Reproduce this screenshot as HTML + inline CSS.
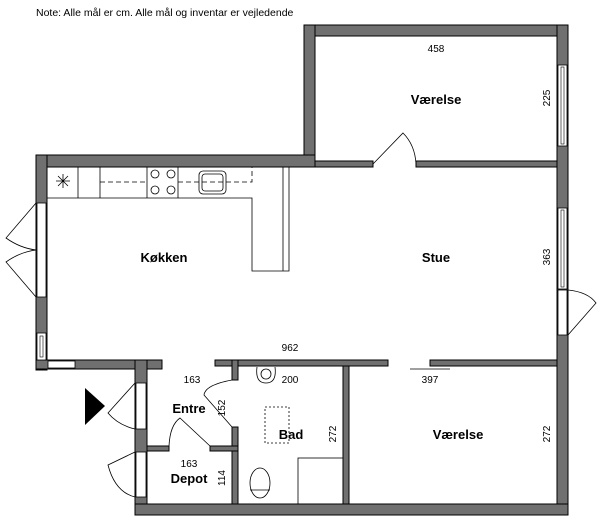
<!DOCTYPE html>
<html><head><style>
html,body{margin:0;padding:0;background:#fff;}
svg{display:block;font-family:"Liberation Sans",sans-serif;}
.w{fill:#707070;stroke:#000;stroke-width:1;}
.t{font-weight:bold;font-size:13px;text-anchor:middle;}
.d{font-size:10px;text-anchor:middle;}
.l{fill:none;stroke:#000;stroke-width:0.8;}
</style></head><body>
<svg width="600" height="524" viewBox="0 0 600 524">
<text x="36" y="16" font-size="10.5">Note: Alle mål er cm. Alle mål og inventar er vejledende</text>
<!-- walls -->
<rect class="w" x="304" y="25" width="264" height="11"/>
<rect class="w" x="304" y="25" width="11" height="142"/>
<rect class="w" x="557" y="25" width="11" height="490"/>
<rect class="w" x="36" y="155" width="279" height="12"/>
<rect class="w" x="315" y="161" width="58" height="6"/>
<rect class="w" x="416" y="161" width="141" height="6"/>
<rect class="w" x="36" y="155" width="11" height="215"/>
<rect class="w" x="36" y="360" width="126" height="9"/>
<rect class="w" x="135" y="360" width="12" height="155"/>
<rect class="w" x="215" y="360" width="173" height="6"/>
<rect class="w" x="430" y="360" width="127" height="6"/>
<rect class="w" x="232" y="360" width="6" height="20"/>
<rect class="w" x="232" y="427" width="6" height="88"/>
<rect class="w" x="343" y="366" width="6" height="149"/>
<rect class="w" x="135" y="504" width="433" height="11"/>
<rect class="w" x="147" y="446" width="22" height="5"/>
<rect class="w" x="210" y="446" width="28" height="5"/>
<!-- openings (white over walls) -->
<rect x="37" y="203" width="9" height="94" fill="#fff" stroke="#000" stroke-width="0.8"/>
<rect x="37" y="333" width="9" height="27" fill="#fff" stroke="#000" stroke-width="0.8"/>
<rect x="40" y="336" width="3" height="21" fill="#fff" stroke="#000" stroke-width="0.6"/>
<rect x="48" y="361" width="27" height="7" fill="#fff" stroke="#000" stroke-width="0.8"/>
<rect x="558" y="65" width="9" height="81" fill="#fff" stroke="#000" stroke-width="0.8"/>
<rect x="561" y="67" width="3" height="77" fill="#fff" stroke="#000" stroke-width="0.6"/>
<rect x="558" y="208" width="9" height="81" fill="#fff" stroke="#000" stroke-width="0.8"/>
<rect x="561" y="210" width="3" height="77" fill="#fff" stroke="#000" stroke-width="0.6"/>
<rect x="558" y="290" width="9" height="45" fill="#fff" stroke="#000" stroke-width="0.8"/>
<rect x="136" y="383" width="10" height="46" fill="#fff" stroke="#000" stroke-width="0.8"/>
<rect x="136" y="452" width="10" height="45" fill="#fff" stroke="#000" stroke-width="0.8"/>
<!-- doors -->
<path class="l" d="M36 203 L6 238 Q20 248 36 250 M36 297 L6 262 Q20 252 36 250"/>
<path class="l" d="M568 335 L596 303 Q588 292 568 290"/>
<path class="l" d="M373 164 L403 133 Q415 145 416 164"/>
<path class="l" d="M135 383 L108 413 Q118 425 135 429"/>
<path class="l" d="M135 452 L108 465 Q115 492 135 497"/>
<path class="l" d="M232 380 Q205 385 204 395 L232 427"/>
<path class="l" d="M169 446 Q170 425 180 418 L210 446"/>
<path class="l" d="M410 369 L450 369" stroke-width="1.2"/>
<polygon points="85,388 105,406 85,425" fill="#000"/>
<!-- kitchen counter -->
<path class="l" d="M47 198 L252 198 L252 271 L289 271 L289 167 M283 167 L283 271" stroke-width="1"/>
<path class="l" d="M78 167V198 M100 167V198 M147 167V198 M178 167V198"/>
<path class="l" d="M100 182H147 M178 182H252 V167" stroke-dasharray="5,3"/>
<circle class="l" cx="155" cy="174" r="4"/><circle class="l" cx="171" cy="174" r="4"/>
<circle class="l" cx="155" cy="190" r="4"/><circle class="l" cx="171" cy="190" r="4"/>
<rect class="l" x="199" y="171" width="27" height="23" rx="4"/>
<rect class="l" x="202" y="174" width="21" height="17" rx="3"/>
<path class="l" d="M56 181H70 M63 174V188 M58 176L68 186 M68 176L58 186"/>
<!-- bath -->
<rect class="l" x="265" y="407" width="24" height="36" stroke-dasharray="2,2"/>
<path class="l" d="M257 367 Q255 383 266 383 Q277 383 275 367"/>
<circle class="l" cx="266" cy="374" r="5"/>
<ellipse class="l" cx="260" cy="483" rx="10" ry="15"/>
<path class="l" d="M250 490H270"/>
<rect class="l" x="298" y="458" width="45" height="46"/>
<!-- labels -->
<text class="t" x="436" y="104">Værelse</text>
<text class="t" x="164" y="262">Køkken</text>
<text class="t" x="436" y="262">Stue</text>
<text class="t" x="458" y="439">Værelse</text>
<text class="t" x="291" y="439">Bad</text>
<text class="t" x="189" y="413">Entre</text>
<text class="t" x="189" y="483">Depot</text>
<text class="d" x="436" y="52">458</text>
<text class="d" x="290" y="351">962</text>
<text class="d" x="430" y="383">397</text>
<text class="d" x="192" y="383">163</text>
<text class="d" x="290" y="383">200</text>
<text class="d" x="189" y="467">163</text>
<text class="d" transform="translate(550,98) rotate(-90)">225</text>
<text class="d" transform="translate(550,257) rotate(-90)">363</text>
<text class="d" transform="translate(550,434) rotate(-90)">272</text>
<text class="d" transform="translate(336,434) rotate(-90)">272</text>
<text class="d" transform="translate(225,408) rotate(-90)">152</text>
<text class="d" transform="translate(225,478) rotate(-90)">114</text>
</svg>
</body></html>
